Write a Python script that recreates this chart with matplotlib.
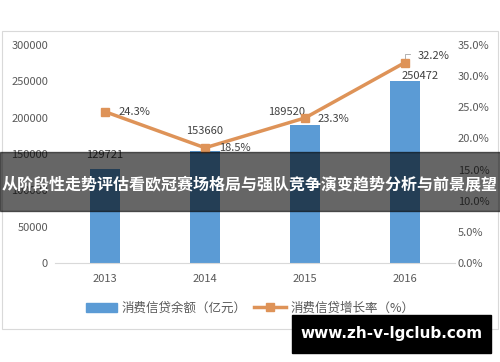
import matplotlib.pyplot as plt
from matplotlib.patches import Rectangle
from matplotlib.lines import Line2D

plt.rcParams['font.family'] = ['Noto Sans CJK SC', 'DejaVu Sans']

years = ['2013', '2014', '2015', '2016']
balance = [129721, 153660, 189520, 250472]
growth = [24.3, 18.5, 23.3, 32.2]
left_ticks = [0, 50000, 100000, 150000, 200000, 250000, 300000]
right_ticks = [0, 5, 10, 15, 20, 25, 30, 35]
bar_name = '消费信贷余额（亿元）'
line_name = '消费信贷增长率（%）'
banner = '从阶段性走势评估看欧冠赛场格局与强队竞争演变趋势分析与前景展望'
mark = 'www.zh-v-lgclub.com'

blue = '#5B9BD5'
orange = '#DE9358'
grey = '#595959'

fig = plt.figure(figsize=(5, 3.62), dpi=100)
ax = fig.add_axes([0.11, 0.2735, 0.8, 0.602])
ax2 = ax.twinx()

x = list(range(len(years)))
ax.bar(x, balance, width=0.3, color=blue, zorder=2)
ax.set_ylim(0, 300000)
ax.set_xlim(-0.5, 3.5)
ax.set_yticks(left_ticks)
ax.set_yticklabels([str(v) for v in left_ticks])
ax.set_xticks(x)
ax.set_xticklabels(years)

ax2.plot(x, growth, color=orange, lw=2.5, marker='s', ms=6, zorder=3)
ax2.set_ylim(0, 35)
ax2.set_yticks(right_ticks)
ax2.set_yticklabels([f'{v:.1f}%' for v in right_ticks])

for a in (ax, ax2):
    for s in a.spines.values():
        s.set_visible(False)
    a.tick_params(length=0, labelsize=8, labelcolor=grey)
ax.spines['bottom'].set_visible(True)
ax.spines['bottom'].set_color('#D9D9D9')
ax.tick_params(axis='y', pad=5)
ax.tick_params(axis='x', pad=8)
ax2.tick_params(axis='y', pad=2)

# bar labels
bar_off = [(0, 6), (0, 11), (-13, 6), (11, 0)]
for i, v in enumerate(balance):
    ax.annotate(str(v), (x[i], v), xytext=bar_off[i], textcoords='offset points',
                ha='center', va='bottom', fontsize=8, color='#404040')

# rate labels
rate_off = [(10, 0), (10, 0), (9, -1), (9, 5)]
for i, v in enumerate(growth):
    ax2.annotate(f'{v}%', (x[i], v), xytext=rate_off[i], textcoords='offset points',
                 ha='left', va='center', fontsize=8, color='#404040')
ax2.plot([x[3], x[3], x[3] + 0.05], [growth[3], growth[3] + 1.3, growth[3] + 1.3],
         color='#A6A6A6', lw=0.6, zorder=2)

h1 = Rectangle((0, 0), 1, 1, color=blue)
h2 = Line2D([], [], color=orange, lw=2.5, marker='s', ms=6)
fig.legend([h1, h2], [bar_name, line_name], loc='center', ncol=2,
           bbox_to_anchor=(0.5, 0.149), frameon=False, fontsize=9,
           handlelength=2.5, handletextpad=0.4, columnspacing=0.6,
           labelcolor=grey)

# outer frame
fig.patches.append(Rectangle((0.004, 0.091), 0.992, 0.823, transform=fig.transFigure,
                             fill=False, ec='#D9D9D9', lw=0.8))

# overlay banner
fig.patches.append(Rectangle((0, 0.417), 1, 0.163, transform=fig.transFigure,
                             color='black', alpha=0.6, zorder=10))
fig.text(0.5, 0.49, banner, ha='center', va='center', color='white',
         fontsize=11.5, fontweight='bold', zorder=11)

# watermark
fig.patches.append(Rectangle((0.584, 0.025), 0.398, 0.105, transform=fig.transFigure,
                             color='black', zorder=10))
fig.text(0.783, 0.078, mark, ha='center', va='center', color='white',
         fontsize=11, fontweight='bold', family='DejaVu Sans', zorder=11)

fig.savefig('out.png', dpi=100)
